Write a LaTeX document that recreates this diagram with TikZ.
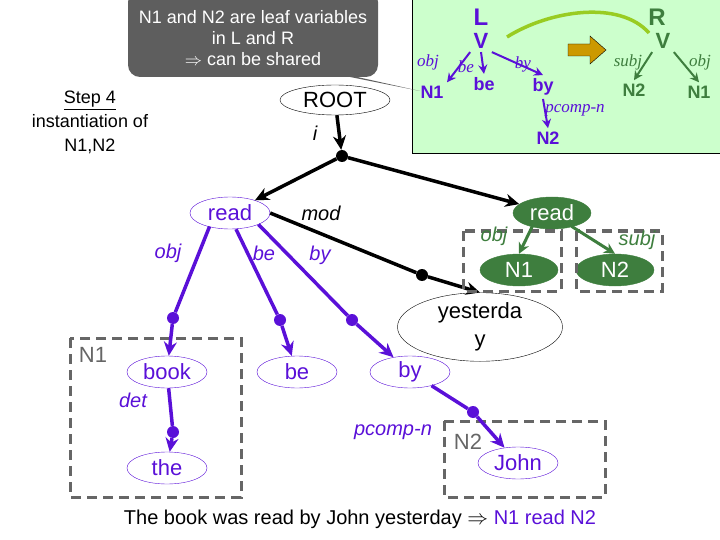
\documentclass[tikz,border=0pt]{standalone}
\usepackage{fontspec}
\setmainfont{Liberation Sans}
\newfontfamily\serifit{Liberation Serif}
\usepackage{amssymb}
\usetikzlibrary{shapes.geometric,arrows.meta}
\definecolor{pur}{HTML}{5A10D8}
\definecolor{dgreen}{HTML}{3E7E3E}
\definecolor{lgreen}{HTML}{CCFFCC}
\definecolor{callg}{HTML}{5E5E5E}
\definecolor{dashg}{HTML}{666666}
\definecolor{arcg}{HTML}{99CC22}
\definecolor{orng}{HTML}{CC9900}
\tikzset{
 ell/.style={ellipse,draw,thin,minimum width=80pt,minimum height=32pt,inner sep=0pt,font=\fontsize{22}{24}\selectfont},
 pell/.style={ell,draw=pur,text=pur},
 gell/.style={ell,draw=dgreen,fill=dgreen,text=white,minimum width=78pt,minimum height=32pt},
 lab/.style={font=\fontsize{20}{22}\selectfont\itshape},
 slab/.style={font=\fontsize{17}{19}\selectfont\serifit\itshape},
 bl/.style={font=\fontsize{18}{20}\selectfont\bfseries},
 dot/.style={circle,fill,inner sep=0pt,minimum size=12pt},
 pdot/.style={dot,fill=pur},
 karr/.style={line width=3.5pt,-{Stealth[length=14pt,width=13pt]}},
 parr/.style={karr,draw=pur},
 garr/.style={line width=3pt,draw=dgreen,-{Stealth[length=11pt,width=11pt]}},
 tarr/.style={line width=2pt,draw=pur,-{Stealth[length=9pt,width=9pt]}},
 tgarr/.style={line width=2pt,draw=dgreen,-{Stealth[length=9pt,width=9pt]}},
 dbox/.style={draw=dashg,line width=3pt,dash pattern=on 10pt off 6pt},
}
\begin{document}
\begin{tikzpicture}[x=1pt,y=-1pt]
\useasboundingbox (0,0) rectangle (720,540);
% green box
\fill[lgreen] (412,-2) rectangle (722,153);
\draw[thick] (412,-2) -- (412,153) -- (722,153);
% callout
\fill[callg,rounded corners=12pt] (128,-10) rectangle (378,77);
\fill[callg] (335,72) -- (420,91) -- (350,77) -- cycle;
\node[text=white,align=center,font=\fontsize{18}{21}\selectfont] (call) at (253,38) {N1 and N2 are leaf variables\\in L and R\\$\Rightarrow$ can be shared};
% top box contents
\node[bl,text=pur,font=\fontsize{24}{26}\selectfont\bfseries] (L) at (481,17) {L};
\node[bl,text=pur,font=\fontsize{22}{24}\selectfont\bfseries] (LV) at (481,41) {V};
\node[bl,text=pur] (tN1) at (432,92) {N1};
\node[bl,text=pur] (tbe) at (484,84) {be};
\node[bl,text=pur] (tby) at (543,87) {by};
\node[bl,text=pur] (tN2) at (548,138) {N2};
\draw[tarr] (LV.south west) -- (tN1.north east);
\draw[tarr] (LV.south) -- (tbe.north);
\draw[tarr] (LV.south east) -- (tby.north);
\draw[tarr] (tby.south) -- (tN2.north);
\node[slab,text=pur] (lo) at (428,62) {obj};
\node[slab,text=pur] (lb) at (466,67) {be};
\node[slab,text=pur] (ly) at (523,64) {by};
\node[slab,text=pur] (lp) at (575,110) {pcomp-n};
\node[bl,text=dgreen,font=\fontsize{24}{26}\selectfont\bfseries] (R) at (657,17) {R};
\node[bl,text=dgreen,font=\fontsize{22}{24}\selectfont\bfseries] (RV) at (663,41) {V};
\node[bl,text=dgreen] (rN2) at (634,90) {N2};
\node[bl,text=dgreen] (rN1) at (699,92) {N1};
\draw[tgarr] (RV.south west) -- (rN2.north);
\draw[tgarr] (RV.south east) -- (rN1.north);
\node[slab,text=dgreen] (rs) at (628,62) {subj};
\node[slab,text=dgreen] (ro) at (700,62) {obj};
\coordinate (a1) at (507,37);
\coordinate (a2) at (649,33);
\draw[arcg,line width=3.5pt] (a1) .. controls (550,10) and (620,0) .. (a2);
\fill[orng,draw=black,thin] (568,44) -- (590,44) -- (590,36) -- (606,50) -- (590,64) -- (590,56) -- (568,56) -- cycle;
% step text
\node[align=center,font=\fontsize{18}{24}\selectfont] (step) at (90,122) {\underline{Step 4}\\instantiation of\\N1,N2};
% main tree
\node[ell,minimum width=110pt,minimum height=30pt] (root) at (335,100) {ROOT};
\node[lab] (il) at (315,133) {i};
\node[dot] (d0) at (342,156) {};
\draw[karr] (root) -- (d0);
\node[pell] (readL) at (230,213) {read};
\node[gell] (readR) at (552,213) {read};
\draw[karr] (d0) -- (readL);
\draw[karr] (d0) -- (readR);
\node[lab] (modl) at (321,213) {mod};
\node[ell,minimum width=165pt,minimum height=46pt,align=center,font=\fontsize{22}{28}\selectfont] (yest) at (480,327) {yesterda\\y};
\node[dot] (dm) at (422,275) {};
\draw[line width=3.5pt] (readL.east) -- (dm);
\draw[karr] (dm) -- (yest.north);
\node[gell] (gN1) at (519,270) {N1};
\node[gell] (gN2) at (615,270) {N2};
\draw[dbox] (463,231) rectangle (561,291);
\draw[dbox] (576,231) rectangle (662,291);
\draw[garr] (readR.south west) ++(8,2) -- (gN1.north);
\draw[garr] (readR.south east) ++(-8,2) -- (gN2.north);
\node[lab,text=dgreen] (go) at (494,236) {obj};
\node[lab,text=dgreen] (gs) at (637,240) {subj};
% left purple
\draw[dbox] (70,338) rectangle (241,497);
\node[font=\fontsize{22}{24}\selectfont,text=dashg] (bN1) at (93,355) {N1};
\node[pell] (book) at (167,372) {book};
\node[pell] (the) at (167,468) {the};
\node[pell] (be) at (297,372) {be};
\node[pell] (by) at (410,372) {by};
\draw[dbox] (444,421) rectangle (605,497);
\node[font=\fontsize{22}{24}\selectfont,text=dashg] (bN2) at (468,442) {N2};
\node[pell,minimum width=80pt,minimum height=32pt] (john) at (518,463) {John};
\node[pdot] (p1) at (173,318) {};
\node[pdot] (p2) at (280,320) {};
\node[pdot] (p3) at (352,320) {};
\node[pdot] (p4) at (173,432) {};
\node[pdot] (p5) at (473,412) {};
\draw[line width=3.5pt,pur] (readL.south west) ++(8,2) -- (p1);
\draw[parr] (p1) -- (book);
\draw[line width=3.5pt,pur] (readL.south) ++(6,0) -- (p2);
\draw[parr] (p2) -- (be);
\draw[line width=3.5pt,pur] (readL.south east) -- (p3);
\draw[parr] (p3) -- (by);
\draw[line width=3.5pt,pur] (book) -- (p4);
\draw[parr] (p4) -- (the);
\draw[line width=3.5pt,pur] (by) -- (p5);
\draw[parr] (p5) -- (john);
\node[lab,text=pur] (lobj) at (168,253) {obj};
\node[lab,text=pur] (lbe) at (264,253) {be};
\node[lab,text=pur] (lby) at (320,255) {by};
\node[lab,text=pur] (ldet) at (133,400) {det};
\node[lab,text=pur] (lpc) at (393,432) {pcomp-n};
% sentence
\node[font=\fontsize{20}{22}\selectfont] (sent) at (360,519) {The book was read by John yesterday $\Rightarrow$ \textcolor{pur}{N1 read N2}};
\end{tikzpicture}
\end{document}
